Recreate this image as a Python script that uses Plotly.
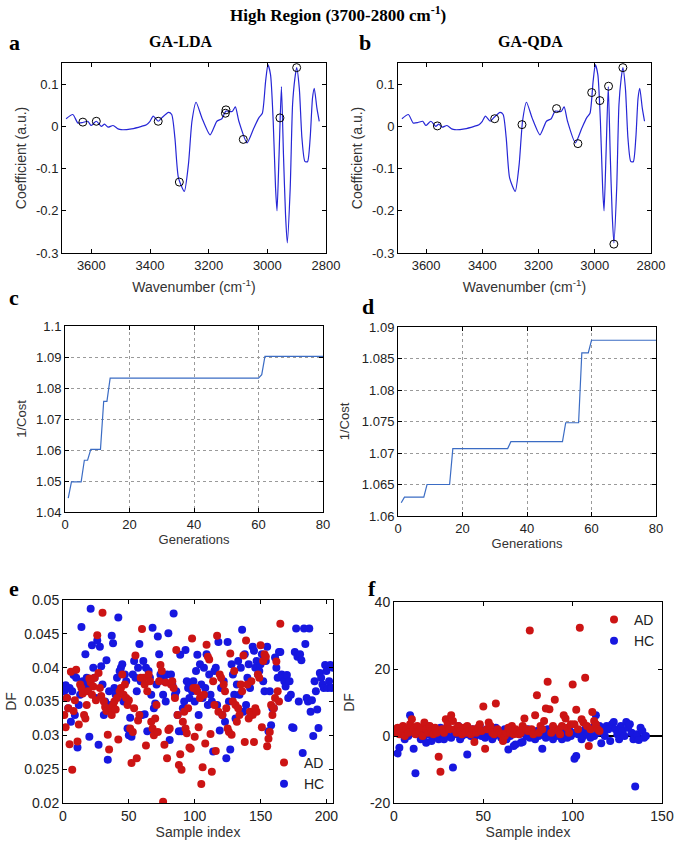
import plotly.graph_objects as go

W, H = 677, 848

# ---- spectrum (shared by a and b) ----
wavenumber = [3686, 3663, 3646, 3629, 3612, 3601, 3583, 3566, 3555, 3543, 3526, 3509, 3498, 3463,
              3429, 3412, 3400, 3389, 3372, 3360, 3337, 3326, 3315, 3303, 3283, 3269, 3257, 3243,
              3223, 3195, 3172, 3155, 3141, 3120, 3109, 3097, 3069, 3046, 3029, 3017, 3006, 2998,
              2989, 2980, 2972, 2967, 2960, 2952, 2945, 2938, 2932, 2922, 2914, 2906, 2900, 2891,
              2882, 2872, 2863, 2854, 2846, 2840, 2831, 2823]
coefficient = [0.018, 0.028, 0.008, 0.009, 0.012, 0.002, 0.012, 0.0, 0.005, -0.002, 0.002, -0.006,
               -0.008, -0.006, 0.0, 0.004, 0.012, 0.024, 0.012, 0.02, 0.033, 0.028, -0.028, -0.122,
               -0.154, -0.09, 0.012, 0.057, 0.02, -0.02, 0.012, 0.018, 0.036, 0.035, 0.046, 0.012,
               -0.039, -0.004, 0.02, 0.031, 0.106, 0.146, 0.122, 0.012, -0.146, -0.2, -0.067, 0.094,
               -0.067, -0.209, -0.276, -0.146, 0.051, 0.114, 0.139, 0.09, -0.028, -0.083, -0.084,
               -0.028, 0.067, 0.09, 0.043, 0.012]

lda_wn = [3629, 3583, 3372, 3300, 3141, 3143, 3082, 2957, 2900]
lda_coef = [0.010, 0.012, 0.012, -0.132, 0.039, 0.031, -0.031, 0.020, 0.139]
qda_wn = [3560, 3356, 3259, 3136, 3060, 3011, 2982, 2951, 2932, 2900]
qda_coef = [0.001, 0.018, 0.004, 0.042, -0.041, 0.080, 0.061, 0.095, -0.279, 0.139]

# ---- GA convergence (c, d) ----
gen_lda = [1, 2, 5, 6, 7, 8, 11, 12, 13, 14, 60, 61, 62, 80]
cost_lda = [1.0445, 1.0497, 1.0497, 1.0567, 1.0567, 1.0602, 1.0602, 1.0757, 1.0757, 1.0832,
            1.0832, 1.0843, 1.0902, 1.0902]
gen_qda = [1, 2, 8, 9, 16, 17, 34, 35, 51, 52, 56, 57, 59, 60, 80]
cost_qda = [1.0621, 1.063, 1.063, 1.065, 1.065, 1.0707, 1.0707, 1.0718, 1.0718, 1.0748, 1.0748,
            1.0859, 1.0859, 1.0879, 1.0879]

# ---- discriminant function values (e) ----
df_lda_ad = [0.0330, 0.0312, 0.0355, 0.0340, 0.0287, 0.0394, 0.0249, 0.0336, 0.0352, 0.0397,
             0.0291, 0.0316, 0.0375, 0.0370, 0.0362, 0.0330, 0.0325, 0.0345, 0.0365, 0.0384,
             0.0378, 0.0360, 0.0372, 0.0385, 0.0352, 0.0448, 0.0392, 0.0370, 0.0358, 0.0481,
             0.0350, 0.0342, 0.0336, 0.0301, 0.0279, 0.0340, 0.0330, 0.0345, 0.0350, 0.0338,
             0.0355, 0.0294, 0.0365, 0.0370, 0.0390, 0.0360, 0.0375, 0.0355, 0.0345, 0.0352,
             0.0310, 0.0259, 0.0305, 0.0340, 0.0418, 0.0266, 0.0322, 0.0330, 0.0385, 0.0457,
             0.0385, 0.0375, 0.0285, 0.0365, 0.0390, 0.0380, 0.0320, 0.0310, 0.0300, 0.0325,
             0.0345, 0.0305, 0.0380, 0.0404, 0.0395, 0.0202, 0.0286, 0.0378, 0.0266, 0.0308,
             0.0310, 0.0375, 0.0380, 0.0370, 0.0355, 0.0426, 0.0330, 0.0256, 0.0272, 0.0249,
             0.0320, 0.0335, 0.0310, 0.0303, 0.0340, 0.0282, 0.0280, 0.0443, 0.0370, 0.0298,
             0.0370, 0.0365, 0.0312, 0.0355, 0.0228, 0.0253, 0.0360, 0.0288, 0.0434, 0.0416,
             0.0412, 0.0302, 0.0246, 0.0380, 0.0345, 0.0277, 0.0447, 0.0335, 0.0390, 0.0385,
             0.0330, 0.0375, 0.0365, 0.0340, 0.0310, 0.0305, 0.0421, 0.0301, 0.0350, 0.0395,
             0.0345, 0.0320, 0.0340, 0.0330, 0.0375, 0.0365, 0.0418, 0.0290, 0.0440, 0.0375,
             0.0325, 0.0335, 0.0380, 0.0330, 0.0290, 0.0340, 0.0335, 0.0390, 0.0385, 0.0433,
             0.0312, 0.0410, 0.0420, 0.0416, 0.0284, 0.0295, 0.0305, 0.0345, 0.0330, 0.0340,
             0.0355, 0.0409, 0.0365, 0.0350, 0.0465]
df_lda_hc = [0.0365, 0.0374, 0.0355, 0.0340, 0.0370, 0.0320, 0.0365, 0.0389, 0.0330, 0.0385,
             0.0282, 0.0345, 0.0360, 0.0460, 0.0380, 0.0375, 0.0420, 0.0385, 0.0370, 0.0298,
             0.0487, 0.0433, 0.0400, 0.0385, 0.0355, 0.0440, 0.0286, 0.0431, 0.0402, 0.0375,
             0.0330, 0.0350, 0.0411, 0.0264, 0.0365, 0.0345, 0.0447, 0.0436, 0.0370, 0.0360,
             0.0385, 0.0474, 0.0395, 0.0400, 0.0405, 0.0350, 0.0390, 0.0380, 0.0310, 0.0300,
             0.0326, 0.0298, 0.0390, 0.0410, 0.0385, 0.0365, 0.0400, 0.0435, 0.0380, 0.0330,
             0.0410, 0.0331, 0.0400, 0.0306, 0.0395, 0.0385, 0.0360, 0.0459, 0.0340, 0.0347,
             0.0375, 0.0446, 0.0420, 0.0390, 0.0385, 0.0360, 0.0380, 0.0350, 0.0390, 0.0451,
             0.0293, 0.0390, 0.0375, 0.0480, 0.0360, 0.0365, 0.0330, 0.0306, 0.0419, 0.0306,
             0.0340, 0.0350, 0.0426, 0.0380, 0.0370, 0.0355, 0.0375, 0.0365, 0.0380, 0.0350,
             0.0395, 0.0419, 0.0330, 0.0405, 0.0375, 0.0355, 0.0400, 0.0370, 0.0420, 0.0345,
             0.0390, 0.0360, 0.0350, 0.0276, 0.0395, 0.0400, 0.0345, 0.0438, 0.0307, 0.0370,
             0.0330, 0.0380, 0.0320, 0.0266, 0.0438, 0.0350, 0.0279, 0.0405, 0.0390, 0.0360,
             0.0325, 0.0375, 0.0410, 0.0360, 0.0400, 0.0456, 0.0335, 0.0420, 0.0345, 0.0385,
             0.0405, 0.0370, 0.0333, 0.0431, 0.0425, 0.0400, 0.0410, 0.0390, 0.0395, 0.0405,
             0.0420, 0.0380, 0.0365, 0.0410, 0.0431, 0.0306, 0.0365, 0.0315, 0.0340, 0.0340,
             0.0415, 0.0400, 0.0385, 0.0423, 0.0423, 0.0390, 0.0385, 0.0380, 0.0372, 0.0389,
             0.0355, 0.0380, 0.0360, 0.0312, 0.0311, 0.0423, 0.0458, 0.0416, 0.0350, 0.0420,
             0.0411, 0.0274, 0.0458, 0.0435, 0.0355, 0.0350, 0.0458, 0.0335, 0.0352, 0.0299,
             0.0380, 0.0365, 0.0338, 0.0311, 0.0392, 0.0385, 0.0375, 0.0370, 0.0404, 0.0395,
             0.0370, 0.0380, 0.0404, 0.0370, 0.0400]

# ---- discriminant function values (f) ----
df_qda_ad = [1.0, 2.5, 0.5, 1.5, 3.0, 0.0, 2.0, 1.0, 3.5, 5.0,
             2.0, 0.5, 3.0, 1.5, 2.5, 0.0, 4.0, 2.0, 1.0, 3.0,
             1.5, 0.5, 2.5, 1.0, -6.2, -10.7, 2.0, 1.0, 5.0, 3.5,
             2.0, 6.2, 4.5, 2.0, 1.0, 3.0, 1.5, 0.5, 2.5, 1.0,
             3.0, 1.5, 0.5, 2.0, -1.8, 1.0, 2.5, 3.5, 1.5, 8.8,
             -3.8, 2.0, 4.0, 3.0, 1.0, 0.5, 9.7, 2.0, 1.0, 0.5,
             -1.5, 0.0, 1.0, 2.5, 1.0, 3.0, 0.5, 2.0, 1.5, 0.5,
             1.0, 3.0, 5.2, 2.0, 1.5, 31.5, 2.0, 0.5, 6.2, 12.2,
             1.0, 3.0, 2.0, 4.5, 8.2, 16.2, 8.0, 1.0, 3.0, 10.8,
             2.0, 1.5, 0.5, 3.0, 6.2, 5.2, 2.5, 1.0, 3.5, 15.4,
             3.5, 7.8, 2.0, 32.3, 5.0, 4.0, 17.4, 3.0, -3.0, 2.0,
             7.2, 4.5, 3.5, 2.0, 1.5]
df_qda_hc = [1.5, -5.2, -3.5, 0.5, 2.0, -1.0, 1.0, 0.0, 6.2, 1.5,
             -3.8, -11.1, 0.5, 2.5, -1.0, 1.0, 0.0, -2.0, 3.0, 0.5,
             -1.5, 1.0, 2.0, 0.0, -1.0, 2.5, 0.5, -1.0, 1.5, 0.0,
             2.0, -0.5, -9.4, 1.0, 0.5, 3.0, -1.0, 0.0, 1.5, 0.5,
             -5.5, 1.0, 0.0, 2.0, -0.5, 1.0, 0.5, 3.0, 0.0, 1.5,
             -0.5, 2.0, 0.5, 1.0, -1.0, 0.0, 2.5, 0.5, 1.0, -0.5,
             0.5, 2.0, -1.0, -4.0, 0.0, 1.5, -3.0, -2.5, 1.0, 0.5,
             -2.0, -1.8, 1.0, 0.0, 2.0, -0.5, 1.0, 0.5, -1.0, 1.5,
             0.0, 1.0, -3.8, 0.5, -0.5, 2.0, 0.0, 1.0, -1.0, 0.5,
             1.5, 0.0, 2.0, -1.0, 0.5, 1.0, -0.5, 2.5, 0.0, 1.0,
             -6.8, -6.0, 0.5, 1.5, -1.0, 0.0, 2.0, 0.5, 1.0, -0.5,
             2.5, 0.0, 6.2, 1.0, 3.0, -2.2, 1.5, 0.0, 3.0, 2.0,
             -1.5, 3.5, 4.2, 2.0, 0.5, -1.0, 3.0, 1.5, 0.0, 4.2,
             2.5, 3.5, 1.0, -1.0, -15.1, 0.5, -1.2, 2.5, 1.5, -0.5, 0.0]

RED = "#CC1414"
BLUE = "#1717E0"
SPEC = "#2626D6"
CURVE = "#3B6CC4"


def dom_x(a, b):
    return [a / W, b / W]


def dom_y(top, bottom):
    return [1 - bottom / H, 1 - top / H]


fig = go.Figure()

# a / b spectra with selected wavenumbers
for ax, wsel, csel in [("", lda_wn, lda_coef), ("2", qda_wn, qda_coef)]:
    fig.add_trace(go.Scatter(x=wavenumber, y=coefficient, mode="lines",
                             line=dict(color=SPEC, width=1.2, shape="spline", smoothing=0.6),
                             xaxis="x" + ax, yaxis="y" + ax, showlegend=False))
    fig.add_trace(go.Scatter(x=wsel, y=csel, mode="markers",
                             marker=dict(symbol="circle-open", size=8, color="black",
                                         line=dict(width=1)),
                             xaxis="x" + ax, yaxis="y" + ax, showlegend=False))

# c / d convergence
fig.add_trace(go.Scatter(x=gen_lda, y=cost_lda, mode="lines", line=dict(color=CURVE, width=1.2),
                         xaxis="x3", yaxis="y3", showlegend=False))
fig.add_trace(go.Scatter(x=gen_qda, y=cost_qda, mode="lines", line=dict(color=CURVE, width=1.2),
                         xaxis="x4", yaxis="y4", showlegend=False))

# e / f discriminant scores (HC drawn first, AD on top)
for ax, hc, ad, leg in [("5", df_lda_hc, df_lda_ad, "legend"), ("6", df_qda_hc, df_qda_ad, "legend2")]:
    fig.add_trace(go.Scatter(x=list(range(1, len(hc) + 1)), y=hc, mode="markers", name="HC",
                             marker=dict(color=BLUE, size=8), legendrank=2, legend=leg,
                             xaxis="x" + ax, yaxis="y" + ax))
    fig.add_trace(go.Scatter(x=list(range(1, len(ad) + 1)), y=ad, mode="markers", name="AD",
                             marker=dict(color=RED, size=8), legendrank=1, legend=leg,
                             xaxis="x" + ax, yaxis="y" + ax))

tick_font = dict(family="Liberation Sans, Arial", size=13, color="#222")
title_font = dict(family="Liberation Sans, Arial", size=13, color="#333")
base = dict(showline=True, linecolor="black", linewidth=1, mirror="allticks", ticks="inside",
            ticklen=4, tickcolor="black", showgrid=False, zeroline=False, tickfont=tick_font,
            title_font=title_font, automargin=False)
grid = dict(showgrid=True, gridcolor="#9a9a9a", griddash="dot", gridwidth=1)

wn_ticks = [3600, 3400, 3200, 3000, 2800]
coef_ticks = [-0.3, -0.2, -0.1, 0, 0.1]
coef_text = ["-0.3", "-0.2", "-0.1", "0", "0.1"]

fig.update_layout(
    width=W, height=H, margin=dict(l=0, r=0, t=0, b=0, autoexpand=False),
    paper_bgcolor="white", plot_bgcolor="white",
    xaxis=dict(base, domain=dom_x(62, 326), range=[3700, 2800], tickvals=wn_ticks,
               title=dict(text="Wavenumber (cm<sup>-1</sup>)", standoff=10,
               font=dict(title_font, size=14)), anchor="y"),
    yaxis=dict(base, domain=dom_y(63, 253), range=[-0.3, 0.15], tickvals=coef_ticks,
               ticktext=coef_text, title=dict(text="Coefficient (a.u.)", standoff=6,
               font=dict(title_font, size=14)), anchor="x"),
    xaxis2=dict(base, domain=dom_x(398, 651), range=[3700, 2800], tickvals=wn_ticks,
                title=dict(text="Wavenumber (cm<sup>-1</sup>)", standoff=10,
                font=dict(title_font, size=14)), anchor="y2"),
    yaxis2=dict(base, domain=dom_y(63, 253), range=[-0.3, 0.15], tickvals=coef_ticks,
                ticktext=coef_text, title=dict(text="Coefficient (a.u.)", standoff=6,
                font=dict(title_font, size=14)), anchor="x2"),
    xaxis3=dict(base, **grid, domain=dom_x(65, 323), range=[0, 80], tickvals=[0, 20, 40, 60, 80],
                title=dict(text="Generations", standoff=1), anchor="y3"),
    yaxis3=dict(base, **grid, domain=dom_y(326, 512), range=[1.04, 1.1],
                tickvals=[1.04, 1.05, 1.06, 1.07, 1.08, 1.09, 1.1],
                ticktext=["1.04", "1.05", "1.06", "1.07", "1.08", "1.09", "1.1"],
                title=dict(text="1/Cost", standoff=6), anchor="x3"),
    xaxis4=dict(base, **grid, domain=dom_x(398, 656), range=[0, 80], tickvals=[0, 20, 40, 60, 80],
                title=dict(text="Generations", standoff=1), anchor="y4"),
    yaxis4=dict(base, **grid, domain=dom_y(327, 516), range=[1.06, 1.09],
                tickvals=[1.06, 1.065, 1.07, 1.075, 1.08, 1.085, 1.09],
                ticktext=["1.06", "1.065", "1.07", "1.075", "1.08", "1.085", "1.09"],
                title=dict(text="1/Cost", standoff=9), anchor="x4"),
    xaxis5=dict(base, domain=dom_x(63, 333), range=[0, 205], tickvals=[0, 50, 100, 150, 200],
                tickfont=dict(tick_font, size=14), title=dict(text="Sample index", standoff=2,
                font=dict(title_font, size=14)), anchor="y5"),
    yaxis5=dict(base, domain=dom_y(600, 803), range=[0.02, 0.05],
                tickvals=[0.02, 0.025, 0.03, 0.035, 0.04, 0.045, 0.05],
                ticktext=["0.02", "0.025", "0.03", "0.035", "0.04", "0.045", "0.05"],
                tickfont=dict(tick_font, size=14),
                title=dict(text="DF", standoff=4, font=dict(title_font, size=14)), anchor="x5"),
    xaxis6=dict(base, domain=dom_x(394, 662), range=[0, 150], tickvals=[0, 50, 100, 150],
                tickfont=dict(tick_font, size=14), title=dict(text="Sample index", standoff=2,
                font=dict(title_font, size=14)), anchor="y6"),
    yaxis6=dict(base, domain=dom_y(602, 803), range=[-20, 40], tickvals=[-20, 0, 20, 40],
                ticktext=["-20", "0", "20", "40"], zeroline=True, zerolinecolor="black",
                zerolinewidth=1.5, tickfont=dict(tick_font, size=14),
                title=dict(text="DF", standoff=12, font=dict(title_font, size=14)), anchor="x6"),
    legend=dict(x=330 / W, y=1 - 800 / H, xanchor="right", yanchor="bottom",
                bgcolor="rgba(0,0,0,0)", font=dict(family="Liberation Sans, Arial", size=14,
                color="#222"), tracegroupgap=0, itemwidth=30),
    legend2=dict(x=660 / W, y=1 - 604 / H, xanchor="right", yanchor="top",
                 bgcolor="rgba(0,0,0,0)", font=dict(family="Liberation Sans, Arial", size=14,
                 color="#222"), tracegroupgap=0, itemwidth=30),
)

serif = "Liberation Serif, Times New Roman"
labels = [
    ("High Region (3700-2800 cm<sup>-1</sup>)", 338, 14, 17),
    ("GA-LDA", 181, 41, 16),
    ("GA-QDA", 530, 41, 16),
    ("a", 14, 42, 22),
    ("b", 365, 42, 22),
    ("c", 14, 298, 22),
    ("d", 368, 306, 22),
    ("e", 14, 588, 22),
    ("f", 372, 588, 22),
]
for text, x, y, size in labels:
    fig.add_annotation(text="<b>" + text + "</b>", x=x / W, y=1 - y / H, xref="paper", yref="paper",
                       showarrow=False, xanchor="center", yanchor="middle",
                       font=dict(family=serif, size=size, color="black"))

# drop the default body margin so the figure sits at the window's top-left corner
fig.write_html("out.html", config={"displayModeBar": False},
               post_script="document.body.style.margin='0';")
